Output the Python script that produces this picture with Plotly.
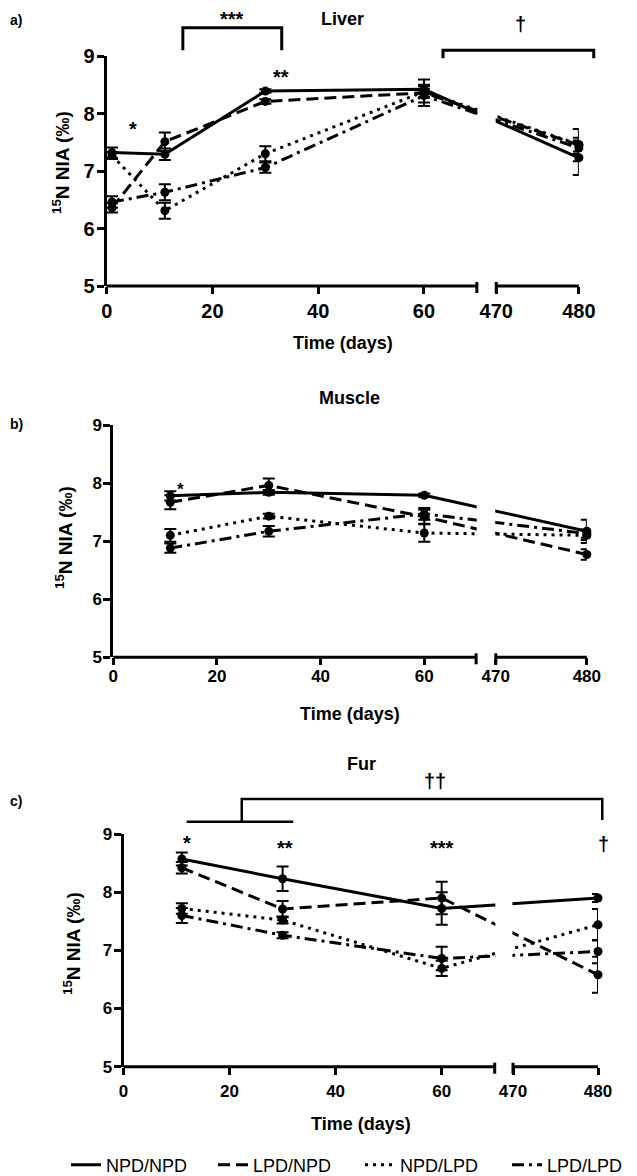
import plotly.graph_objects as go

# ---------------- data ----------------
groups = ["NPD/NPD", "LPD/NPD", "NPD/LPD", "LPD/LPD"]

liver_days = [1, 11, 30, 60, 480]
liver_npd_npd = [7.32, 7.29, 8.39, 8.42, 7.23]
liver_lpd_npd = [6.36, 7.51, 8.21, 8.36, 7.45]
liver_npd_lpd = [7.27, 6.31, 7.30, 8.38, 7.46]
liver_lpd_lpd = [6.46, 6.63, 7.06, 8.31, 7.40]
liver_npd_npd_sem = [0.09, 0.10, 0.03, 0.08, 0.30]
liver_lpd_npd_sem = [0.08, 0.16, 0.04, 0.23, 0.28]
liver_npd_lpd_sem = [0.06, 0.14, 0.13, 0.10, 0.12]
liver_lpd_lpd_sem = [0.10, 0.14, 0.09, 0.12, 0.10]

muscle_days = [11, 30, 60, 480]
muscle_npd_npd = [7.78, 7.84, 7.79, 7.17]
muscle_lpd_npd = [7.67, 7.96, 7.42, 6.77]
muscle_npd_lpd = [7.10, 7.43, 7.14, 7.10]
muscle_lpd_lpd = [6.88, 7.17, 7.47, 7.13]
muscle_npd_npd_sem = [0.08, 0.04, 0.03, 0.20]
muscle_lpd_npd_sem = [0.12, 0.12, 0.12, 0.09]
muscle_npd_lpd_sem = [0.11, 0.04, 0.15, 0.08]
muscle_lpd_lpd_sem = [0.08, 0.09, 0.10, 0.07]

fur_days = [11, 30, 60, 480]
fur_npd_npd = [8.57, 8.23, 7.72, 7.90]
fur_lpd_npd = [8.42, 7.71, 7.90, 6.58]
fur_npd_lpd = [7.72, 7.52, 6.69, 7.44]
fur_lpd_lpd = [7.60, 7.26, 6.86, 6.98]
fur_npd_npd_sem = [0.11, 0.21, 0.28, 0.07]
fur_lpd_npd_sem = [0.10, 0.14, 0.28, 0.31]
fur_npd_lpd_sem = [0.09, 0.06, 0.13, 0.27]
fur_lpd_lpd_sem = [0.13, 0.05, 0.20, 0.20]

x_tick_days = [0, 20, 40, 60, 470, 480]
x_tick_labels = ["0", "20", "40", "60", "470", "480"]
y_ticks = [5, 6, 7, 8, 9]
panel_titles = ["Liver", "Muscle", "Fur"]
panel_letters = ["a)", "b)", "c)"]

# ---------------- style / layout ----------------
# The page body has an 8px margin, so the figure is laid out in
# coordinates shifted by OFF relative to the target picture.
OFF = 8
W, H = 637 - OFF, 1176 - OFF
FONT = "Liberation Sans, Arial, sans-serif"
dashes = ["solid", "12px,6px", "3px,5px", "12px,5px,3px,5px"]


def pxx(xr):
    return (xr - OFF) / W


def pxy(yr):
    return 1 - (yr - OFF) / H


panels = [
    dict(days=liver_days,
         vals=[liver_npd_npd, liver_lpd_npd, liver_npd_lpd, liver_lpd_lpd],
         sems=[liver_npd_npd_sem, liver_lpd_npd_sem, liver_npd_lpd_sem, liver_lpd_lpd_sem],
         left=106.7, top=56, bottom=286, ppd=5.288, gap=3.67, rs=1.562, tick=20,
         standoff=0, ytitle=(61, 163), title=(342, 19), xtitle=343),
    dict(days=muscle_days,
         vals=[muscle_npd_npd, muscle_lpd_npd, muscle_npd_lpd, muscle_lpd_lpd],
         sems=[muscle_npd_npd_sem, muscle_lpd_npd_sem, muscle_npd_lpd_sem, muscle_lpd_lpd_sem],
         left=113.3, top=425, bottom=657.3, ppd=5.183, gap=3.80, rs=1.756, tick=17,
         standoff=-4, ytitle=(64, 537), title=(349, 398), xtitle=350),
    dict(days=fur_days,
         vals=[fur_npd_npd, fur_lpd_npd, fur_npd_lpd, fur_lpd_lpd],
         sems=[fur_npd_npd_sem, fur_lpd_npd_sem, fur_npd_lpd_sem, fur_lpd_lpd_sem],
         left=123.5, top=834, bottom=1066.7, ppd=5.303, gap=3.45, rs=1.603, tick=17,
         standoff=2, ytitle=(72, 944), title=(361, 764), xtitle=361),
]
letter_xy = [(16, 20), (16, 424), (16, 801)]


def tx(day, p):
    """Broken-axis transform: 0-70 days linear, then 470+ compressed segment."""
    if day <= 70:
        return day
    return 70 + p["gap"] + (day - 470) * p["rs"]


def umax(p):
    return tx(480, p)


def label(text, xr, yr, size, angle=0, bold=True):
    return dict(text=text, xref="paper", yref="paper", x=pxx(xr), y=pxy(yr),
                xanchor="center", yanchor="middle", textangle=angle, showarrow=False,
                font=dict(family=FONT, size=size, color="black",
                          weight="bold" if bold else "normal"))


fig = go.Figure()
shapes = []
annotations = []

for i, p in enumerate(panels):
    n = "" if i == 0 else str(i + 1)
    xa, ya = "x" + n, "y" + n
    um = umax(p)
    right_px = p["left"] + um * p["ppd"]
    hpx = p["bottom"] - p["top"]

    for g, (vals, sems) in enumerate(zip(p["vals"], p["sems"])):
        fig.add_trace(go.Scatter(
            x=[tx(d, p) for d in p["days"]], y=vals,
            error_y=dict(type="data", array=sems, visible=True, color="black",
                         thickness=2, width=6),
            mode="lines+markers",
            line=dict(color="black", width=3, dash=dashes[g]),
            marker=dict(symbol="circle", size=9, color="black"),
            cliponaxis=False, showlegend=False, name=groups[g],
            xaxis=xa, yaxis=ya))

    fig.update_layout(**{
        ("xaxis" + n): dict(
            domain=[pxx(p["left"]), pxx(right_px)], range=[0, um],
            anchor=ya, showgrid=False, zeroline=False, showline=False,
            ticks="outside", ticklen=7, tickwidth=3, tickcolor="black",
            tickvals=[tx(d, p) for d in x_tick_days], ticktext=x_tick_labels,
            ticklabelstandoff=p["standoff"],
            tickfont=dict(family=FONT, size=p["tick"], color="black", weight="bold"),
            automargin=False, fixedrange=True),
        ("yaxis" + n): dict(
            domain=[pxy(p["bottom"]), pxy(p["top"])], range=[5, 9],
            anchor=xa, showgrid=False, zeroline=False, showline=True,
            linewidth=3, linecolor="black",
            ticks="outside", ticklen=7, tickwidth=3, tickcolor="black",
            tickvals=y_ticks, ticklabelstandoff=-2,
            tickfont=dict(family=FONT, size=p["tick"], color="black", weight="bold"),
            automargin=False, fixedrange=True),
    })

    xd, yd = xa + " domain", ya + " domain"

    def fx(day, p=p, um=um):
        return tx(day, p) / um

    def fy(v):
        return (v - 5) / 4.0

    px = 1.0 / hpx
    # white mask over the axis break
    shapes.append(dict(type="rect", xref=xd, yref=yd, x0=fx(70) + 0.6 / (um * p["ppd"]),
                       x1=fx(470) - 0.6 / (um * p["ppd"]), y0=-0.01, y1=1.0,
                       fillcolor="white", line=dict(width=0), layer="above"))
    # broken x-axis line
    for a, b in [(0, 70), (470, 480)]:
        shapes.append(dict(type="line", xref=xd, yref=yd, x0=fx(a), x1=fx(b), y0=0, y1=0,
                           line=dict(color="black", width=3), layer="above"))
    for d in [70, 470]:
        shapes.append(dict(type="line", xref=xd, yref=yd, x0=fx(d), x1=fx(d),
                           y0=4 * px, y1=-7 * px,
                           line=dict(color="black", width=3), layer="above"))

    # titles
    annotations.append(label(panel_titles[i], p["title"][0], p["title"][1], 18))
    annotations.append(label("Time (days)", p["xtitle"], p["bottom"] + 57, 18))
    annotations.append(label("<sup>15</sup>N NIA (‰)", p["ytitle"][0], p["ytitle"][1], 19, angle=-90))
    annotations.append(label(panel_letters[i], letter_xy[i][0], letter_xy[i][1], 14))

    def mark(text, day, v, size=20, shift=-4, xd=xd, yd=yd, fx=fx):
        annotations.append(dict(text=text, xref=xd, yref=yd, x=fx(day), y=fy(v), yshift=shift,
                                xanchor="center", yanchor="middle", showarrow=False,
                                font=dict(family=FONT, size=size, color="black", weight="bold")))

    def bracket(pts, width=3, xd=xd, yd=yd, fx=fx):
        path = "M " + " L ".join(f"{fx(d):.5f},{fy(v):.5f}" for d, v in pts)
        shapes.append(dict(type="path", xref=xd, yref=yd, path=path,
                           line=dict(color="black", width=width), layer="above"))

    if i == 0:
        mark("*", 5, 7.80)
        mark("**", 33, 8.70)
        mark("***", 23.75, 9.71)
        bracket([(14.4, 9.10), (14.4, 9.49), (33.1, 9.49), (33.1, 9.10)])
        mark("†", 472.9, 9.54, shift=1)
        bracket([(63.6, 8.96), (63.6, 9.10), (481.8, 9.10), (481.8, 8.96)])
    elif i == 1:
        mark("*", 12.9, 7.94, size=17, shift=-3)
    else:
        mark("*", 11.9, 8.91)
        mark("**", 30.5, 8.83)
        mark("***", 60, 8.83)
        mark("†", 480.6, 8.81, shift=1)
        mark("††", 58.7, 9.90, shift=1)
        bracket([(11.9, 9.21), (32.0, 9.21)], width=2.5)
        bracket([(22.3, 9.21), (22.3, 9.60), (480.5, 9.60), (480.5, 9.24)], width=2.5)

# legend entries (line styles only)
for g, name in enumerate(groups):
    fig.add_trace(go.Scatter(x=[None], y=[None], mode="lines", name=name,
                             line=dict(color="black", width=3, dash=dashes[g]),
                             showlegend=True, xaxis="x", yaxis="y"))

fig.update_layout(
    width=W, height=H, margin=dict(l=0, r=0, t=0, b=0, pad=0, autoexpand=False),
    paper_bgcolor="white", plot_bgcolor="white",
    shapes=shapes, annotations=annotations,
    legend=dict(orientation="h", x=pxx(66), xanchor="left", y=pxy(1165), yanchor="middle",
                font=dict(family=FONT, size=18, color="black"),
                entrywidth=102, entrywidthmode="pixels", itemwidth=30,
                bgcolor="rgba(0,0,0,0)", borderwidth=0),
    showlegend=True,
)

fig.write_html("out.html")
